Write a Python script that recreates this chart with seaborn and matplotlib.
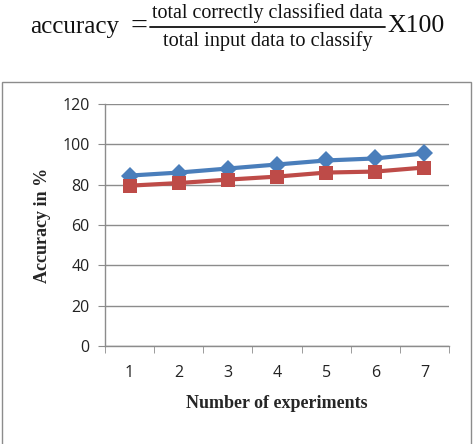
import pandas as pd
import seaborn as sns
import matplotlib.pyplot as plt
from matplotlib.patches import Rectangle
from matplotlib.lines import Line2D
from matplotlib.ticker import FixedLocator

# values
experiments = [1, 2, 3, 4, 5, 6, 7]
series_blue = [84.5, 86, 88, 90, 92, 93, 95.5]
series_red = [79.5, 80.8, 82.5, 84, 86, 86.5, 88.5]
y_ticks = [0, 20, 40, 60, 80, 100, 120]

df = pd.DataFrame({"exp": experiments, "blue": series_blue, "red": series_red})

sns.set_style("white")

W, H = 474, 444
fig = plt.figure(figsize=(W / 100, H / 100), dpi=100)
ax = fig.add_axes([105 / W, 1 - 346 / H, 344 / W, 242 / H])

sns.lineplot(data=df, x="exp", y="blue", ax=ax, color="#4A7EBB", lw=3,
             marker="D", markersize=9.5, markeredgewidth=0)
sns.lineplot(data=df, x="exp", y="red", ax=ax, color="#BE4B48", lw=3,
             marker="s", markersize=9.5, markeredgewidth=0)

ax.set_xlim(0.5, 7.5)
ax.set_ylim(0, 120)
ax.set_yticks(y_ticks)
ax.set_xticks(experiments)
ax.xaxis.set_minor_locator(FixedLocator([i + 0.5 for i in range(0, 8)]))
ax.yaxis.grid(True, color="#8c8c8c", lw=1)
ax.set_axisbelow(True)

for side in ["top", "right"]:
    ax.spines[side].set_visible(False)
for side in ["left", "bottom"]:
    ax.spines[side].set_color("#8c8c8c")
    ax.spines[side].set_linewidth(1)

ax.tick_params(axis="y", which="major", left=True, length=5, color="#8c8c8c",
               labelsize=11.5, pad=6)
ax.tick_params(axis="x", which="major", bottom=False, labelsize=11.5, pad=10)
ax.tick_params(axis="x", which="minor", bottom=True, length=5, color="#8c8c8c")
for lab in ax.get_xticklabels() + ax.get_yticklabels():
    lab.set_fontfamily("Open Sans")
    lab.set_color("#222222")

ax.set_xlabel("Number of experiments", family="Liberation Serif",
              fontweight="bold", fontsize=13, labelpad=10)
ax.set_ylabel("Accuracy in %", family="Liberation Serif",
              fontweight="bold", fontsize=13, labelpad=8)

# chart frame
fig.patches.append(Rectangle((2 / W, -0.01), 469 / W, 1 - 82 / H + 0.01,
                             transform=fig.transFigure, fill=False,
                             edgecolor="#8c8c8c", lw=1))

# formula above the chart, pieces sized to the widths seen in the reference
renderer = fig.canvas.get_renderer()


def put(txt, x0, x1, yc, size):
    t = fig.text((x0 + x1) / 2 / W, 1 - yc / H, txt, ha="center", va="center",
                 family="Liberation Serif", fontsize=size, color="#111111")
    w = t.get_window_extent(renderer).width
    t.set_fontsize(size * (x1 - x0) / w)
    return t


put("accuracy", 30, 120, 27, 14)
put("=", 130, 147, 27, 14)
put("total correctly classified data", 152, 383, 13, 10)
put("total input data to classify", 163, 373, 41, 10)
put("X100", 387, 445, 26, 14)
fig.lines.append(Line2D([150 / W, 385 / W], [1 - 27 / H, 1 - 27 / H],
                        transform=fig.transFigure, color="#111111", lw=1.3))

fig.savefig("out.png", dpi=100)
